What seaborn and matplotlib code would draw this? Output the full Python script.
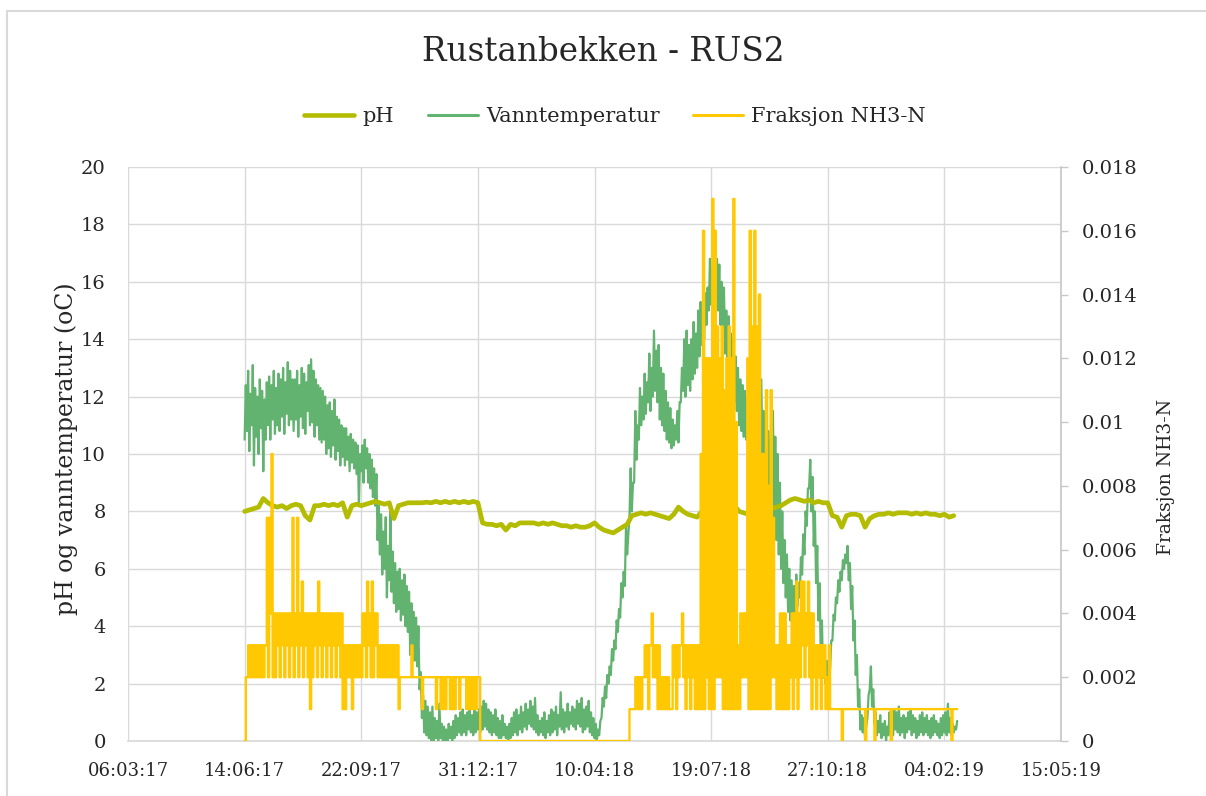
import matplotlib
matplotlib.use("Agg")
import matplotlib.pyplot as plt
import matplotlib.dates as mdates
from matplotlib.ticker import FuncFormatter, MultipleLocator
from matplotlib.lines import Line2D
import seaborn as sns
import pandas as pd
import numpy as np

# ---------------- data ----------------
title = "Rustanbekken - RUS2"
series_names = ["pH", "Vanntemperatur", "Fraksjon NH3-N"]
x_start = "2017-03-06"
x_end = "2019-05-15"
series_start = "2017-06-14"

# Vanntemperatur: (low, high) reading for each 2-day period from 14.06.17
temp_lo_hi = [
    (10.5, 12.4), (10.8, 12.9), (10.1, 12.1), (11.0, 13.1), (9.6, 12.3), (10.6, 12.0), (10.0, 12.6), (10.9, 12.2), (9.4, 11.9), (10.5, 12.5),
    (11.0, 12.7), (10.5, 12.4), (11.2, 12.9), (10.7, 12.3), (11.0, 12.8), (10.8, 12.6), (11.3, 13.0), (10.7, 12.5), (11.4, 13.2), (11.0, 12.9), (11.2, 12.6),
    (10.8, 12.6), (11.2, 12.9), (10.6, 12.4), (11.3, 13.0), (10.9, 12.8), (10.7, 12.5), (11.5, 13.1), (11.0, 13.3), (11.1, 12.9), (10.6, 12.6), (11.0, 12.4), (10.5, 12.3),
    (10.4, 12.2), (10.5, 12.0), (10.0, 11.7), (10.2, 11.8), (9.9, 11.5), (10.3, 11.9), (9.8, 11.3), (10.1, 11.2), (9.6, 11.0), (9.9, 10.9),
    (9.6, 10.9), (9.8, 10.6), (9.4, 10.7), (9.7, 10.5), (9.5, 10.4), (9.3, 10.3),
    (8.2, 10.0), (9.4, 10.3), (9.0, 10.5), (9.5, 10.2), (9.0, 10.0), (8.8, 9.8), (8.5, 9.5), (8.2, 9.3), (7.0, 8.2), (6.5, 7.9), (5.8, 7.3),
    (6.0, 7.8), (5.0, 6.8), (5.6, 8.0), (5.2, 6.6), (4.8, 6.2), (4.5, 5.9), (4.6, 6.0), (4.2, 5.6), (4.4, 5.8), (4.0, 5.4), (3.8, 5.2),
    (3.0, 4.8), (2.8, 4.5), (2.8, 4.3), (2.6, 4.0), (1.8, 2.4), (0.8, 1.6), (0.3, 1.4), (0.2, 1.2), (0.1, 1.0), (0.0, 1.2),
    (0.0, 0.8), (0.1, 0.7), (0.0, 1.3), (0.1, 0.6), (0.0, 0.5), (0.0, 0.4), (0.0, 0.6), (0.1, 0.5), (0.0, 0.7), (0.1, 0.9),
    (0.2, 0.8), (0.3, 1.0), (0.2, 1.1), (0.3, 0.9), (0.2, 1.0), (0.4, 1.1), (0.3, 0.9), (0.2, 1.2), (0.3, 1.0), (0.4, 1.1),
    (0.3, 1.2), (0.4, 1.4), (0.5, 1.3), (0.4, 1.1), (0.3, 1.0), (0.2, 0.9), (0.3, 1.1), (0.2, 0.8), (0.1, 0.7), (0.1, 0.9),
    (0.2, 0.6), (0.1, 0.5), (0.0, 0.6), (0.1, 0.8), (0.2, 1.0), (0.3, 1.1), (0.2, 0.9), (0.4, 1.2), (0.3, 1.0), (0.5, 1.3),
    (0.4, 1.1), (0.6, 1.4), (0.5, 1.2), (0.4, 1.5), (0.3, 0.9), (0.2, 0.7), (0.3, 0.8), (0.2, 1.0), (0.1, 0.7), (0.3, 0.9),
    (0.2, 1.1), (0.3, 1.0), (0.4, 1.2), (0.2, 0.9), (0.5, 1.7), (0.4, 1.1), (0.3, 1.0), (0.5, 1.3), (0.4, 1.0), (0.6, 1.2),
    (0.5, 1.1), (0.4, 1.4), (0.6, 1.3), (0.5, 1.5), (0.3, 1.1), (0.4, 1.2), (0.5, 1.4), (0.3, 1.0), (0.2, 0.8), (0.1, 0.6),
    (0.0, 0.4), (0.2, 0.7),
    (0.8, 1.5), (1.2, 1.9), (1.5, 2.3), (2.0, 2.6), (2.3, 3.2), (2.8, 3.5), (3.2, 4.2), (3.8, 4.6), (4.3, 5.5), (5.0, 5.9),
    (5.4, 7.5), (6.5, 7.2), (7.8, 9.5), (8.0, 9.0), (9.0, 11.5), (9.8, 11.0), (10.5, 12.3), (11.0, 12.0), (11.2, 12.8), (11.4, 12.5),
    (11.8, 13.5), (11.5, 13.0), (12.0, 14.3), (12.2, 13.6),
    (11.8, 13.8), (11.2, 13.0), (11.0, 12.8), (10.8, 12.2), (10.5, 11.8), (10.4, 11.6), (10.2, 11.2), (10.3, 11.0), (10.5, 11.5), (10.4, 11.8),
    (11.8, 13.0), (12.2, 14.0), (12.0, 14.3), (12.4, 13.8), (12.2, 14.0), (12.6, 14.6), (12.8, 14.2),
    (13.0, 15.0), (13.4, 15.3), (13.8, 15.0), (14.0, 15.6), (14.5, 15.8), (15.0, 16.8), (15.2, 16.5), (15.5, 17.3), (15.4, 16.8), (15.0, 16.6),
    (14.5, 16.0), (14.0, 15.8), (13.5, 15.0), (12.8, 14.8), (12.2, 14.2), (12.0, 14.0), (11.8, 13.4), (11.5, 13.0), (11.0, 12.6), (10.8, 12.4),
    (10.6, 12.2), (10.5, 12.0), (9.5, 11.8),
    (9.6, 11.6), (9.3, 11.2), (9.5, 11.0), (9.8, 11.4), (10.0, 12.6), (9.8, 11.5), (9.5, 11.0), (9.0, 10.8), (8.8, 10.5), (8.5, 11.5),
    (7.5, 10.6), (7.0, 10.0), (6.5, 9.0), (6.0, 8.0), (5.5, 7.0), (5.0, 6.5), (4.5, 6.0),
    (4.2, 5.6), (4.2, 5.4), (4.5, 5.8), (4.7, 5.5), (5.0, 6.4), (5.8, 7.2), (6.5, 8.0), (7.5, 8.8), (8.8, 9.8), (8.0, 9.2),
    (6.8, 8.0), (5.5, 6.8), (4.2, 5.5), (3.0, 4.2), (2.2, 3.2), (2.0, 2.8), (1.9, 2.6), (2.5, 3.5), (3.5, 4.4),
    (4.2, 5.0), (4.8, 5.6), (5.2, 5.9), (5.6, 6.3), (6.0, 6.5), (6.2, 6.8), (5.6, 6.2), (4.6, 5.4), (3.5, 4.2), (2.3, 3.0),
    (1.2, 1.8), (0.4, 0.9), (0.3, 0.8), (0.1, 0.5), (0.8, 1.6), (1.8, 2.6), (1.2, 1.8), (0.6, 1.0), (0.2, 0.7), (0.3, 0.9),
    (0.1, 0.6), (0.2, 0.7), (0.0, 0.5),
    (0.2, 1.0), (0.3, 0.9), (0.2, 1.1), (0.4, 1.0), (0.3, 1.2), (0.2, 0.8), (0.3, 0.9), (0.1, 0.8), (0.3, 1.0), (0.4, 1.1),
    (0.2, 0.9), (0.3, 0.8), (0.1, 0.7), (0.2, 0.9), (0.3, 1.0), (0.2, 0.8), (0.3, 0.9), (0.2, 0.7), (0.1, 0.8), (0.2, 0.9),
    (0.3, 0.7), (0.2, 0.6), (0.1, 0.8), (0.2, 0.9), (0.3, 1.0), (0.2, 1.3), (0.3, 0.8), (0.2, 0.6), (0.3, 0.5), (0.4, 0.7),
]

# pH, one reading every 4 days from 14.06.17
ph_values = [
    8.00, 8.05, 8.10, 8.15, 8.45, 8.30, 8.20, 8.15, 8.20, 8.10,
    8.20, 8.25, 8.20, 7.85, 7.70, 8.20, 8.20, 8.25, 8.20, 8.25,
    8.20, 8.30, 7.80, 8.20, 8.25, 8.20, 8.25, 8.30, 8.35, 8.30,
    8.25, 8.30, 7.75, 8.20, 8.25, 8.30, 8.30, 8.30, 8.30, 8.32,
    8.30, 8.35, 8.30, 8.35, 8.30, 8.35, 8.30, 8.35, 8.30, 8.35,
    8.30, 7.60, 7.55, 7.55, 7.50, 7.55, 7.35, 7.55, 7.50, 7.60,
    7.60, 7.60, 7.60, 7.55, 7.60, 7.55, 7.60, 7.55, 7.50, 7.50,
    7.45, 7.50, 7.45, 7.45, 7.50, 7.60, 7.45, 7.35, 7.30, 7.25,
    7.35, 7.45, 7.55, 7.85, 7.90, 7.95, 7.90, 7.95, 7.90, 7.85,
    7.80, 7.75, 7.90, 8.15, 8.00, 7.90, 7.85, 7.80, 8.00, 7.95,
    8.00, 8.00, 7.95, 8.05, 8.10, 8.20, 8.00, 7.95, 7.90, 8.00,
    8.00, 8.05, 8.00, 8.10, 8.15, 8.20, 8.30, 8.40, 8.45, 8.40,
    8.35, 8.40, 8.30, 8.35, 8.30, 8.30, 7.85, 7.80, 7.45, 7.85,
    7.90, 7.90, 7.85, 7.45, 7.75, 7.85, 7.90, 7.90, 7.95, 7.90,
    7.95, 7.95, 7.95, 7.90, 7.95, 7.90, 7.95, 7.90, 7.90, 7.85,
    7.90, 7.80, 7.85,
]

# Fraksjon NH3-N in thousandths: (first day, second day) for each 2-day period from 14.06.17
nh3_pairs = [
    (0, 2),
    (2, 3), (2, 3), (2, 3), (2, 3), (2, 3), (2, 3), (2, 3), (2, 3),
    (3, 7), (2, 7), (4, 9), (2, 4),
    (2, 4), (3, 4), (2, 4), (3, 4), (2, 4), (3, 4), (2, 4),
    (3, 7), (2, 4), (3, 7), (2, 4), (3, 5),
    (2, 4), (3, 4), (2, 4), (1, 4), (2, 4), (3, 4), (2, 5), (3, 4), (2, 4), (3, 4), (2, 4), (3, 4), (2, 4), (3, 4), (2, 4), (3, 4), (2, 4), (1, 3),
    (1, 3), (2, 3), (2, 3), (1, 3), (2, 3), (2, 3), (2, 3),
    (2, 4), (3, 4), (2, 5), (3, 4), (2, 5), (2, 4), (3, 4),
    (2, 3), (2, 3), (2, 3), (2, 3), (2, 3), (2, 3), (2, 3), (2, 3), (2, 3),
    (1, 2), (2, 2), (2, 2), (2, 2), (2, 2), (2, 3),
    (2, 2), (2, 2), (2, 2), (2, 2), (1, 2), (2, 2), (2, 2), (2, 2), (2, 2), (2, 2),
    (1, 2), (2, 2), (1, 2), (1, 2), (1, 2), (2, 2), (1, 2), (1, 2), (1, 2), (2, 2),
    (1, 2), (2, 2), (2, 2), (1, 2), (1, 2), (1, 2), (1, 2), (1, 2), (2, 2),
    (0, 0), (0, 0), (0, 0), (0, 0), (0, 0), (0, 0), (0, 0), (0, 0), (0, 0), (0, 0), (0, 0), (0, 0), (0, 0), (0, 0), (0, 0), (0, 0),
    (0, 0), (0, 0), (0, 0), (0, 0), (0, 0), (0, 0), (0, 0), (0, 0), (0, 0), (0, 0), (0, 0), (0, 0), (0, 0), (0, 0), (0, 0), (0, 0),
    (0, 0), (0, 0), (0, 0), (0, 0), (0, 0), (0, 0), (0, 0), (0, 0), (0, 0), (0, 0), (0, 0), (0, 0), (0, 0), (0, 0), (0, 0), (0, 0),
    (0, 0), (0, 0), (0, 0), (0, 0), (0, 0), (0, 0), (0, 0), (0, 0), (0, 0), (0, 0), (0, 0), (0, 0), (0, 0), (0, 0), (0, 0), (0, 0),
    (1, 1), (1, 1), (1, 2), (1, 2), (1, 2), (1, 2),
    (2, 3), (2, 3), (1, 3), (3, 4), (2, 3), (2, 3), (1, 3),
    (1, 2), (1, 2), (1, 2), (1, 2), (1, 1),
    (1, 3), (2, 3), (1, 3), (2, 3), (3, 4), (2, 3), (1, 3), (2, 3), (1, 3), (2, 3), (1, 3), (1, 3),
    (1, 9), (1, 16), (1, 12), (2, 12), (1, 12), (1, 17), (1, 16), (2, 13), (2, 12), (2, 13),
    (1, 11), (1, 12), (1, 13), (1, 12), (1, 17), (1, 10), (1, 3), (1, 4), (2, 4), (2, 4), (2, 12),
    (1, 16), (1, 13), (1, 16), (1, 13), (1, 14), (1, 9), (1, 9), (1, 11), (1, 8), (1, 11), (2, 7),
    (2, 3), (1, 3), (1, 4), (1, 4), (1, 4), (1, 3), (1, 3),
    (2, 4), (1, 4), (2, 5), (1, 4), (2, 5), (3, 5), (2, 4), (3, 5), (2, 4), (1, 4),
    (2, 3), (1, 3), (2, 3), (1, 3), (2, 3), (1, 2), (1, 3), (1, 1),
    (1, 1), (1, 1), (1, 1), (1, 1), (0, 1), (1, 1), (1, 1), (1, 1), (1, 1), (1, 1),
    (1, 1), (1, 1), (1, 1), (1, 1), (0, 1), (1, 1), (1, 1), (1, 1), (0, 1), (1, 1),
    (1, 1), (1, 1), (1, 1), (1, 1), (1, 1), (0, 1), (1, 1), (1, 1), (1, 1), (1, 1),
    (1, 1), (1, 1), (1, 1), (1, 1), (1, 1), (1, 1), (1, 1), (1, 1), (1, 1), (1, 1),
    (1, 1), (1, 1), (1, 1), (1, 1), (1, 1), (1, 1), (1, 1), (1, 1), (1, 1), (1, 1),
    (1, 1), (0, 1), (1, 1), (1, 1),
]

# ---------------- frames ----------------
temp_daily = [v for pair in temp_lo_hi for v in pair]
nh3_daily = [v / 1000.0 for pair in nh3_pairs for v in pair]

temp_df = pd.DataFrame({
    "dato": pd.date_range(series_start, periods=len(temp_daily), freq="D"),
    "verdi": temp_daily,
})
ph_df = pd.DataFrame({
    "dato": pd.date_range(series_start, periods=len(ph_values), freq="4D"),
    "verdi": ph_values,
})
nh3_df = pd.DataFrame({
    "dato": pd.date_range(series_start, periods=len(nh3_daily), freq="D"),
    "verdi": nh3_daily,
})

# ---------------- style ----------------
sns.set_theme(style="white")
plt.rcParams["font.family"] = ["DejaVu Serif"]
text_col = "#262626"
grid_col = "#D9D9D9"
c_ph = "#B4BC00"
c_temp = "#62B36F"
c_nh3 = "#FFC800"

fig = plt.figure(figsize=(12.06, 7.96), dpi=100)
ax = fig.add_axes([128 / 1206, 1 - 741 / 796, (1061 - 128) / 1206, (741 - 167) / 796])

sns.lineplot(data=temp_df, x="dato", y="verdi", ax=ax, color=c_temp, lw=1.6,
             estimator=None, legend=False, zorder=3)
sns.lineplot(data=ph_df, x="dato", y="verdi", ax=ax, color=c_ph, lw=3.4,
             estimator=None, legend=False, zorder=4)

ax2 = ax.twinx()
sns.lineplot(data=nh3_df, x="dato", y="verdi", ax=ax2, color=c_nh3, lw=1.7,
             estimator=None, legend=False, drawstyle="steps-post", zorder=5)

# axes ranges
ax.set_xlim(pd.Timestamp(x_start), pd.Timestamp(x_end))
ax.set_ylim(0, 20)
ax2.set_ylim(0, 0.018)
ax.yaxis.set_major_locator(MultipleLocator(2))
ax2.yaxis.set_major_locator(MultipleLocator(0.002))
ax.set_xticks(pd.date_range(x_start, x_end, freq="100D"))
ax.xaxis.set_major_formatter(mdates.DateFormatter("%d:%m:%y"))


def fmt_right(v, pos):
    return f"{v:.3f}".rstrip("0").rstrip(".")


ax2.yaxis.set_major_formatter(FuncFormatter(fmt_right))

# grid & spines
ax.grid(True, color=grid_col, lw=1.0)
ax.set_axisbelow(True)
for s in ["top", "left", "right"]:
    ax.spines[s].set_visible(False)
ax.spines["bottom"].set_color(grid_col)
for s in ["top", "left", "bottom"]:
    ax2.spines[s].set_visible(False)
ax2.spines["right"].set_color("#C8C8C8")
ax2.grid(False)

ax.tick_params(axis="x", length=0, labelsize=13, colors=text_col, pad=15)
ax.tick_params(axis="y", length=0, labelsize=14, colors=text_col, pad=16)
ax2.tick_params(axis="y", length=5, width=1, color="#C8C8C8", labelsize=14,
                labelcolor=text_col, pad=10, direction="out")

ax.set_xlabel("")
ax.set_ylabel("pH og vanntemperatur (oC)", fontsize=17, color=text_col)
ax.yaxis.set_label_coords((78 - 128) / 933, 0.51)
ax2.set_ylabel("Fraksjon NH3-N", fontsize=13.5, color=text_col)
ax2.yaxis.set_label_coords((1157 - 128) / 933, 0.46)

# title & legend
fig.text(0.5, 1 - 52 / 796, title, ha="center", va="center", fontsize=23.5, color=text_col)
handles = [
    Line2D([], [], color=c_ph, lw=3.3),
    Line2D([], [], color=c_temp, lw=2.2),
    Line2D([], [], color=c_nh3, lw=2.2),
]
fig.legend(handles, series_names, loc="center", bbox_to_anchor=(0.51, 1 - 117 / 796),
           ncol=3, frameon=False, fontsize=15, handlelength=2.4, columnspacing=1.6,
           handletextpad=0.4, labelcolor=text_col)

# chart-area border (top and left edges)
fig.add_artist(Line2D([7 / 1206, 1.0], [1 - 11 / 796, 1 - 11 / 796],
                      transform=fig.transFigure, color="#D9D9D9", lw=1.5))
fig.add_artist(Line2D([7 / 1206, 7 / 1206], [0.0, 1 - 11 / 796],
                      transform=fig.transFigure, color="#D9D9D9", lw=1.5))

fig.savefig("out.png", dpi=100)
